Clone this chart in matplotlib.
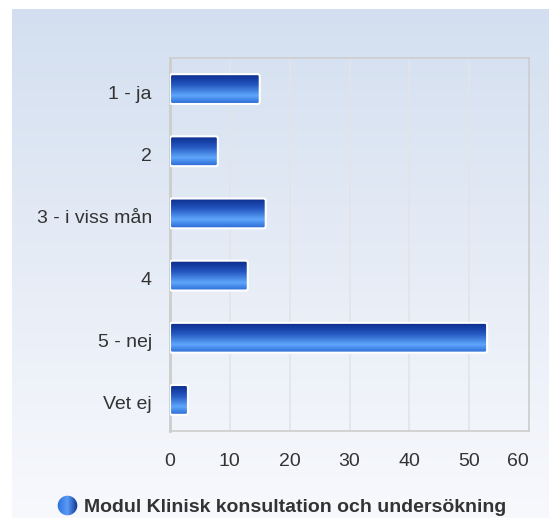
import numpy as np
import matplotlib
matplotlib.use("Agg")
import matplotlib.pyplot as plt
import matplotlib.transforms as mtransforms
from matplotlib.colors import LinearSegmentedColormap
from matplotlib.patches import FancyBboxPatch, Circle

# answers, top to bottom
categories = ["1 - ja", "2", "3 - i viss mån", "4", "5 - nej", "Vet ej"]
counts = [15, 8, 16, 13, 53, 3]
x_ticks = [0, 10, 20, 30, 40, 50, 60]
legend_label = "Modul Klinisk konsultation och undersökning"

plt.rcParams['font.family'] = ['Liberation Sans', 'DejaVu Sans']
W, H = 549, 518
fig = plt.figure(figsize=(W / 100, H / 100), dpi=100)
fig.patch.set_facecolor("white")

# background panel with vertical gradient
bg = fig.add_axes([12 / W, 0, 1 - 12 / W, 509 / H])
bg_cmap = LinearSegmentedColormap.from_list("bg", ["#d3dff0", "#e6ecf6", "#f8f9fd"])
bg.imshow(np.linspace(0, 1, 256).reshape(-1, 1), cmap=bg_cmap, aspect="auto",
          extent=(0, 1, 0, 1))
bg.axis("off")

# bar gradient: dark navy at top, bright blue low, a bit darker at bottom
bar_cmap = LinearSegmentedColormap.from_list(
    "bar", [(0.0, "#0b2c8c"), (0.35, "#2456c0"), (0.72, "#5ea6fb"), (1.0, "#2b69d4")])

ax = fig.add_axes([170 / W, (H - 431) / H, (529 - 170) / W, (431 - 58) / H])
ax.set_facecolor("none")

n = len(categories)
ypos = np.arange(n)[::-1]
bar_h = 0.48
grad = np.linspace(0, 1, 64).reshape(-1, 1)

for y, v in zip(ypos, counts):
    box = FancyBboxPatch((0, y - bar_h / 2), v, bar_h,
                         boxstyle="round,pad=0,rounding_size=0.35",
                         mutation_aspect=0.096, facecolor="none",
                         edgecolor="white", linewidth=1.5, zorder=4)
    ax.add_patch(box)
    im = ax.imshow(grad, cmap=bar_cmap, aspect="auto", origin="upper",
                   extent=(0, v, y - bar_h / 2, y + bar_h / 2), zorder=3)
    im.set_clip_path(box)

ax.set_xlim(0, 60)
ax.set_ylim(-0.5, n - 0.5)
ax.set_yticks(ypos)
ax.set_yticklabels(categories)
ax.set_xticks(x_ticks)
ax.set_xticklabels([str(t) for t in x_ticks])
ax.get_xticklabels()[-1].set_horizontalalignment("right")
ax.tick_params(axis="both", length=0, labelsize=14, colors="#333333")
ax.tick_params(axis="y", pad=13)
ax.tick_params(axis="x", pad=16)
# labels sit a touch below the bar centres in the original
shift = mtransforms.ScaledTranslation(0, -3 / 100, fig.dpi_scale_trans)
for lab in ax.get_yticklabels():
    lab.set_transform(lab.get_transform() + shift)
ax.xaxis.grid(True, color="#e2e4e8", linewidth=1.2)
ax.set_axisbelow(True)
for side, sp in ax.spines.items():
    sp.set_color("#cdcdcd")
    sp.set_linewidth(1.2)
ax.spines["left"].set_linewidth(2)

# legend: gradient dot + bold text
leg = fig.add_axes([0, 0, 1, 1])
leg.set_xlim(0, W)
leg.set_ylim(H, 0)
leg.axis("off")
dot = Circle((67.5, 505.5), 9.8, facecolor="none", edgecolor="none")
leg.add_patch(dot)
dimg = leg.imshow(np.linspace(0, 1, 64).reshape(1, -1),
                  cmap=LinearSegmentedColormap.from_list("dot", ["#2a6fe0", "#5a9cf5", "#0c2f8e"]),
                  extent=(57, 78, 516, 495), aspect="auto")
dimg.set_clip_path(dot)
leg.set_xlim(0, W)
leg.set_ylim(H, 0)
leg.text(84, 507, legend_label, fontsize=14, fontweight="bold",
         color="#333333", va="center", ha="left")

fig.savefig("out.png", dpi=100, facecolor=fig.get_facecolor())
